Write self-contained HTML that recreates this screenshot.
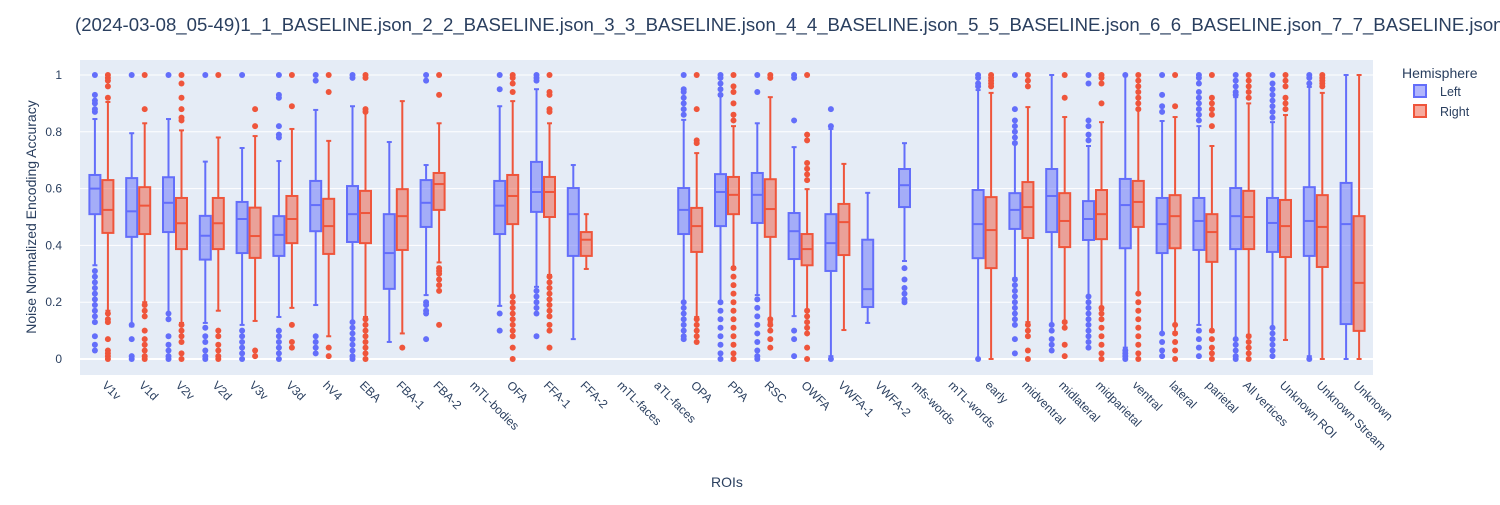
<!DOCTYPE html>
<html><head><meta charset="utf-8"><style>
body{margin:0;background:#fff;width:1500px;height:500px;overflow:hidden;font-family:"Liberation Sans","DejaVu Sans",sans-serif}
svg text{font-family:"Liberation Sans","DejaVu Sans",sans-serif;fill:#2a3f5f}
</style></head><body>
<svg id="chart" width="1500" height="500" xmlns="http://www.w3.org/2000/svg">
<text x="75" y="31" font-size="18.6">(2024-03-08_05-49)1_1_BASELINE.json_2_2_BASELINE.json_3_3_BASELINE.json_4_4_BASELINE.json_5_5_BASELINE.json_6_6_BASELINE.json_7_7_BASELINE.json_8_8_BASELINE.json</text>
<rect x="80" y="60" width="1293" height="315" fill="#e5ecf6"/>
<g id="grid"></g><g id="marks"></g><g id="xlabels"></g>
<text transform="translate(36,217) rotate(-90)" text-anchor="middle" font-size="14">Noise Normalized Encoding Accuracy</text>
<text x="727" y="487" text-anchor="middle" font-size="14">ROIs</text>
<g>
<text x="1402" y="78" font-size="14">Hemisphere</text>
<g><rect x="1414" y="85" width="12" height="12" fill="rgba(99,110,250,0.5)" stroke="#636efa" stroke-width="2"/><text x="1440" y="96" font-size="12.5">Left</text></g>
<g><rect x="1414" y="105" width="12" height="12" fill="rgba(239,85,59,0.5)" stroke="#EF553B" stroke-width="2"/><text x="1440" y="116" font-size="12.5">Right</text></g>
</g>
</svg>
<script>
const categories=["V1v","V1d","V2v","V2d","V3v","V3d","hV4","EBA","FBA-1","FBA-2","mTL-bodies","OFA","FFA-1","FFA-2","mTL-faces","aTL-faces","OPA","PPA","RSC","OWFA","VWFA-1","VWFA-2","mfs-words","mTL-words","early","midventral","midlateral","midparietal","ventral","lateral","parietal","All vertices","Unknown ROI","Unknown Stream","Unknown"];
// [lowerWhisker, q1, median, q3, upperWhisker]
const leftStats=[[0.33,0.51,0.60,0.648,0.845],[0.115,0.43,0.52,0.637,0.795],[0.16,0.447,0.55,0.64,0.845],[0.127,0.35,0.434,0.504,0.695],[0.12,0.373,0.493,0.553,0.743],[0.148,0.363,0.437,0.503,0.697],[0.19,0.45,0.542,0.627,0.877],[0.13,0.412,0.51,0.609,0.89],[0.06,0.247,0.373,0.51,0.764],[0.225,0.465,0.55,0.63,0.683],null,[0.187,0.44,0.54,0.627,0.89],[0.254,0.518,0.588,0.694,0.95],[0.07,0.363,0.51,0.602,0.683],null,null,[0.2,0.44,0.525,0.602,0.842],[0.197,0.468,0.588,0.651,0.926],[0.225,0.479,0.578,0.655,0.83],[0.151,0.352,0.45,0.514,0.746],[0.01,0.31,0.408,0.51,0.81],[0.127,0.183,0.246,0.42,0.585],[0.345,0.535,0.612,0.669,0.76],null,[0,0.355,0.475,0.595,0.947],[0.285,0.458,0.525,0.584,0.764],[0.12,0.447,0.574,0.669,1.0],[0.218,0.419,0.493,0.556,0.75],[0.04,0.39,0.542,0.634,1.0],[0.09,0.373,0.475,0.567,0.838],[0.12,0.384,0.486,0.567,0.82],[0.067,0.387,0.503,0.602,0.922],[0.108,0.377,0.479,0.567,0.834],[0.01,0.363,0.486,0.605,0.958],[0,0.123,0.475,0.62,1.0]];
const rightStats=[[0.17,0.444,0.525,0.63,0.905],[0.2,0.44,0.54,0.605,0.83],[0.127,0.387,0.478,0.567,0.805],[0.17,0.387,0.478,0.567,0.78],[0.134,0.356,0.433,0.533,0.785],[0.18,0.408,0.493,0.574,0.81],[0.08,0.37,0.468,0.564,0.768],[0.148,0.408,0.514,0.592,0.87],[0.09,0.384,0.503,0.598,0.908],[0.34,0.525,0.616,0.655,0.83],null,[0.218,0.475,0.574,0.648,0.908],[0.296,0.5,0.588,0.641,0.83],[0.317,0.363,0.42,0.447,0.51],null,null,[0.148,0.377,0.468,0.532,0.725],[0.324,0.51,0.578,0.641,0.82],[0.13,0.43,0.528,0.633,0.922],[0.173,0.33,0.387,0.44,0.598],[0.102,0.366,0.482,0.546,0.687],null,null,null,[0,0.32,0.454,0.57,0.937],[0.13,0.426,0.535,0.623,0.887],[0.134,0.394,0.486,0.584,0.852],[0.173,0.422,0.51,0.595,0.834],[0.232,0.465,0.553,0.627,0.877],[0.095,0.39,0.503,0.577,0.852],[0.095,0.342,0.447,0.51,0.75],[0.085,0.387,0.5,0.592,0.9],[0.067,0.359,0.468,0.56,0.859],[0,0.324,0.465,0.577,0.937],[0,0.099,0.268,0.503,1.0]];
const leftOutliers=[[1,0.93,0.91,0.9,0.88,0.87,0.31,0.29,0.27,0.25,0.23,0.21,0.19,0.17,0.15,0.13,0.08,0.05,0.03],[1,0.12,0.07,0.01,0],[1,0.16,0.14,0.08,0.05,0.03,0.01,0],[1,0.11,0.08,0.06,0.03,0.01,0],[1,0.1,0.08,0.06,0.04,0.02,0],[1,0.93,0.92,0.82,0.79,0.78,0.1,0.08,0.06,0.04,0.02,0],[1,0.98,0.08,0.06,0.04,0.02],[1,0.99,0.13,0.11,0.09,0.07,0.05,0.03,0.01,0],[],[1,0.98,0.2,0.19,0.17,0.16,0.07],[],[1,0.95,0.16,0.1],[1,0.99,0.98,0.24,0.22,0.2,0.18,0.16,0.08],[],[],[],[1,0.95,0.94,0.92,0.9,0.88,0.86,0.2,0.18,0.16,0.14,0.12,0.1,0.08,0.07],[1,0.99,0.97,0.95,0.93,0.2,0.17,0.14,0.11,0.08,0.05,0.02,0],[1,0.94,0.21,0.18,0.15,0.12,0.09,0.06,0.03,0.01,0],[1,0.99,0.84,0.1,0.07,0.01],[0.88,0.82,0],[],[0.32,0.28,0.25,0.23,0.21,0.2],[],[1,0.99,0.97,0.96,0],[1,0.88,0.84,0.82,0.8,0.78,0.76,0.28,0.26,0.24,0.22,0.2,0.18,0.16,0.14,0.12,0.07,0.02],[0.12,0.1,0.07,0.05,0.03],[1,0.97,0.84,0.82,0.79,0.77,0.22,0.2,0.18,0.16,0.14,0.12,0.1,0.08,0.06,0.04],[1,0.03,0.02,0.01,0],[1,0.93,0.89,0.87,0.09,0.06,0.03,0.01],[1,0.99,0.97,0.94,0.92,0.9,0.88,0.86,0.84,0.1,0.07,0.04,0.01],[1,0.98,0.96,0.94,0.93,0.07,0.05,0.03,0.01,0],[1,0.97,0.95,0.93,0.91,0.89,0.87,0.85,0.11,0.09,0.07,0.05,0.03,0.01],[1,0.99,0.97,0],[]];
const rightOutliers=[[1,0.99,0.98,0.96,0.92,0.16,0.14,0.13,0.07,0.03,0.02,0.01,0],[1,0.88,0.19,0.17,0.15,0.1,0.07,0.05,0.03,0.01,0],[1,0.97,0.92,0.88,0.85,0.84,0.12,0.1,0.08,0.06,0.02,0],[1,0.1,0.08,0.05,0.03,0.01,0],[0.88,0.82,0.03,0.01],[1,0.89,0.12,0.06,0.04],[1,0.94,0.04,0.01],[1,0.99,0.88,0.87,0.14,0.12,0.1,0.08,0.06,0.04,0.02,0],[0.04],[1,0.93,0.32,0.31,0.3,0.28,0.26,0.24,0.12],[],[1,0.99,0.97,0.94,0.22,0.2,0.18,0.16,0.14,0.12,0.1,0.08,0.04,0],[1,0.94,0.93,0.88,0.87,0.29,0.27,0.25,0.23,0.21,0.19,0.17,0.15,0.12,0.1,0.04],[],[],[],[1,0.88,0.77,0.76,0.14,0.12,0.1,0.08,0.06],[1,0.96,0.94,0.9,0.86,0.84,0.32,0.29,0.26,0.23,0.2,0.17,0.14,0.11,0.08,0.05,0.02,0],[1,0.99,0.14,0.12,0.1,0.07,0.04],[1,0.79,0.77,0.69,0.67,0.65,0.63,0.17,0.15,0.13,0.11,0.09,0.04,0],[],[],[],[],[1,0.99,0.98,0.97,0.96],[1,0.98,0.96,0.12,0.1,0.08,0.03,0],[1,0.92,0.13,0.11,0.05,0.01],[1,0.99,0.97,0.9,0.18,0.16,0.14,0.11,0.08,0.05,0.02,0],[1,0.98,0.96,0.94,0.92,0.9,0.88,0.23,0.2,0.17,0.14,0.11,0.08,0.05,0.02,0],[1,0.89,0.12,0.09,0.06,0.03,0],[1,0.92,0.9,0.88,0.86,0.82,0.1,0.07,0.04,0.02,0],[1,0.98,0.96,0.94,0.92,0.08,0.06,0.04,0.02,0],[1,0.98,0.96,0.92,0.9,0.88],[1,0.99,0.98,0.97,0.96],[]];
const yTicks=[0,0.2,0.4,0.6,0.8,1];
const yTickLabels=["0","0.2","0.4","0.6","0.8","1"];

const NS="http://www.w3.org/2000/svg";
const X0=83,X1=1371,Y0=359,Y1=75;
const band=(X1-X0)/categories.length;
const xScale=i=>X0+band*(i+0.5);
const yScale=v=>Y0-(Y0-Y1)*v;
function mk(tag,attrs,parent){const e=document.createElementNS(NS,tag);for(const k in attrs)e.setAttribute(k,attrs[k]);parent.appendChild(e);return e;}
const grid=document.getElementById('grid'),marks=document.getElementById('marks'),xl=document.getElementById('xlabels'),svg=document.getElementById('chart');
yTicks.forEach((t,i)=>{
  const l=mk('line',{x1:80,x2:1373,y1:yScale(t),y2:yScale(t),stroke:'#fff','stroke-width':t===0?2:1},grid);
  
  
  const tx=mk('text',{x:62,y:yScale(t)+4,'text-anchor':'end','font-size':12},svg);
  tx.textContent=yTickLabels[i];
  
  
});
categories.forEach((c,i)=>{
  const t=mk('text',{transform:`translate(${xScale(i)},${386}) rotate(45)`,'font-size':12},xl);
  t.textContent=c;
  
  
});
function drawBox(stats,outs,i,off,color,fill,name){
  if(!stats)return;
  const cx=xScale(i)+off,hw=5.5;
  const g=mk('g',{},marks);
  
  
  const [lw,q1,md,q3,uw]=stats;
  mk('line',{x1:cx,x2:cx,y1:yScale(uw),y2:yScale(q3),stroke:color,'stroke-width':2},g);
  mk('line',{x1:cx,x2:cx,y1:yScale(q1),y2:yScale(lw),stroke:color,'stroke-width':2},g);
  mk('line',{x1:cx-2.5,x2:cx+2.5,y1:yScale(uw),y2:yScale(uw),stroke:color,'stroke-width':2},g);
  mk('line',{x1:cx-2.5,x2:cx+2.5,y1:yScale(lw),y2:yScale(lw),stroke:color,'stroke-width':2},g);
  mk('rect',{x:cx-hw,y:yScale(q3),width:hw*2,height:yScale(q1)-yScale(q3),fill:fill,stroke:color,'stroke-width':2},g);
  mk('line',{x1:cx-hw,x2:cx+hw,y1:yScale(md),y2:yScale(md),stroke:color,'stroke-width':2},g);
  (outs||[]).forEach(v=>{mk('circle',{cx:cx,cy:yScale(v),r:3,fill:color},g);});
}
categories.forEach((c,i)=>{
  drawBox(leftStats[i],leftOutliers[i],i,-6.5,'#636efa','rgba(99,110,250,0.5)','box-left-'+c);
  drawBox(rightStats[i],rightOutliers[i],i,6.5,'#EF553B','rgba(239,85,59,0.5)','box-right-'+c);
});
</script>
</body></html>
